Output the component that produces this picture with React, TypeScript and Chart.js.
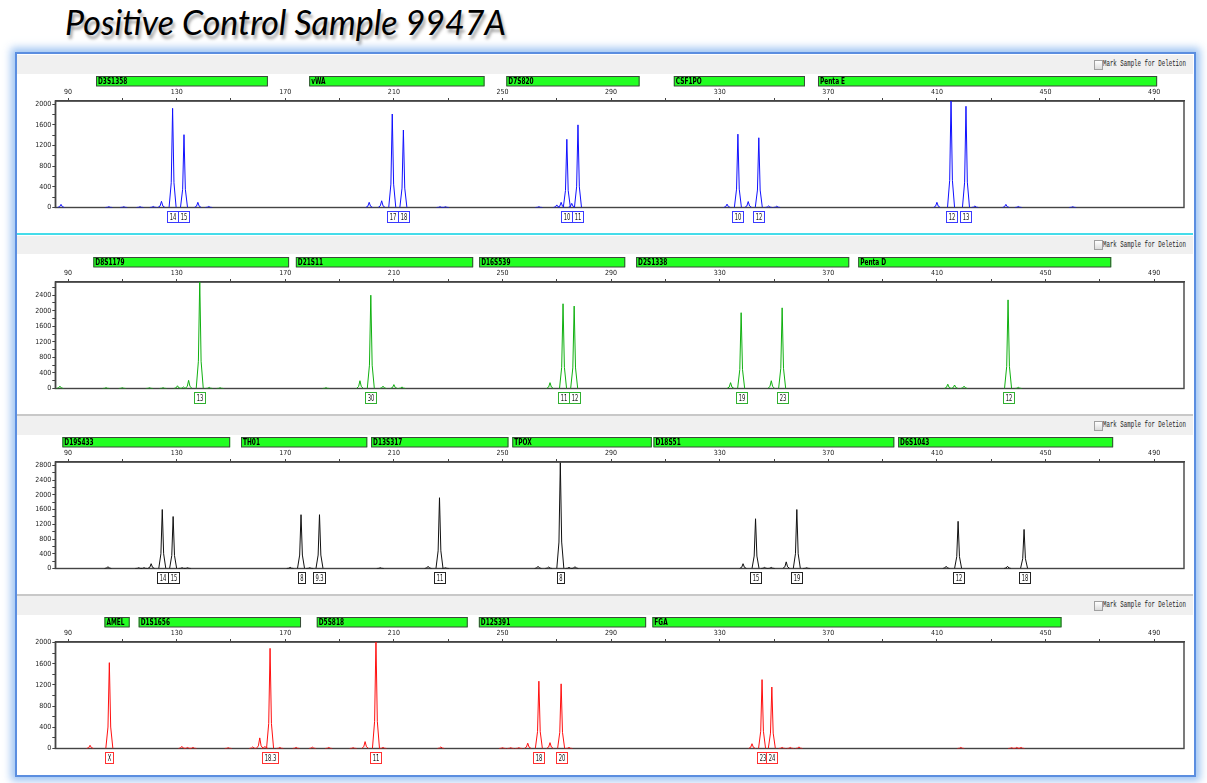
import React, { useEffect, useRef } from 'react';
import { Chart, registerables } from 'chart.js';
Chart.register(...registerables);

// ---------- shared axis data ----------
const X_MIN = 85.3;
const X_MAX = 501;
const X_TICKS = [90, 110, 130, 150, 170, 190, 210, 230, 250, 270, 290, 310, 330, 350, 370, 390, 410, 430, 450, 470, 490];
const X_LABELS = [90, 130, 170, 210, 250, 290, 330, 370, 410, 450, 490];

// ---------- panel 1 (blue) ----------
const LOCI_1_NAMES = ['D3S1358', 'vWA', 'D7S820', 'CSF1PO', 'Penta E'];
const LOCI_1_START = [100.3, 178.8, 251.4, 313.1, 366.2];
const LOCI_1_END = [163.6, 243.4, 300.5, 361.4, 491.1];
const PEAKS_1_POS = [87.4, 105, 110.5, 116.5, 121.4, 124.4, 128.5, 132.7, 137.8, 141.8, 200.9, 205.5, 209.4, 213.5, 227, 229, 263.4, 270, 271.6, 273.7, 275.5, 277.8, 332.7, 336.7, 340.5, 344.4, 348, 351, 410, 415.2, 420.7, 424, 435.4, 440, 460];
const PEAKS_1_H = [60, 15, 15, 15, 20, 120, 1920, 1410, 100, 20, 100, 130, 1810, 1500, 15, 15, 15, 50, 100, 1320, 80, 1600, 65, 1420, 115, 1350, 30, 25, 100, 2100, 1960, 30, 60, 20, 15];
const ALLELES_1_POS = [128.5, 132.7, 209.4, 213.5, 273.7, 277.8, 336.7, 344.4, 415.2, 420.7];
const ALLELES_1_LBL = ['14', '15', '17', '18', '10', '11', '10', '12', '12', '13'];
const Y_TICKS_1 = [0, 200, 400, 600, 800, 1000, 1200, 1400, 1600, 1800, 2000];
const Y_LABELS_1 = [0, 400, 800, 1200, 1600, 2000];

// ---------- panel 2 (green) ----------
const LOCI_2_NAMES = ['D8S1179', 'D21S11', 'D16S539', 'D2S1338', 'Penta D'];
const LOCI_2_START = [99.3, 173.9, 241.4, 299.2, 381];
const LOCI_2_END = [171.4, 239.2, 295.2, 377.7, 474.2];
const PEAKS_2_POS = [87, 104, 110, 120, 125, 130.3, 132.5, 134.4, 138.5, 142, 146, 185, 197.5, 201.5, 206, 210, 213, 267.5, 272.3, 276.4, 334, 337.9, 349, 353, 414, 416.5, 420, 436.2, 440];
const PEAKS_2_H = [60, 20, 20, 20, 20, 70, 40, 210, 2800, 30, 20, 20, 200, 2400, 60, 100, 40, 150, 2180, 2120, 150, 1950, 200, 2075, 110, 90, 60, 2280, 30];
const ALLELES_2_POS = [138.5, 201.5, 272.3, 276.4, 337.9, 353, 436.2];
const ALLELES_2_LBL = ['13', '30', '11', '12', '19', '23', '12'];
const Y_TICKS_2 = [0, 200, 400, 600, 800, 1000, 1200, 1400, 1600, 1800, 2000, 2200, 2400, 2600];
const Y_LABELS_2 = [0, 400, 800, 1200, 1600, 2000, 2400];

// ---------- panel 3 (black) ----------
const LOCI_3_NAMES = ['D19S433', 'TH01', 'D13S317', 'TPOX', 'D18S51', 'D6S1043'];
const LOCI_3_START = [87.9, 153.7, 201.6, 253.6, 305.6, 395.7];
const LOCI_3_END = [149.7, 200.2, 252.2, 305, 394.3, 474.9];
const PEAKS_3_POS = [104.7, 116, 118, 120.6, 124.7, 128.7, 132, 134, 171.8, 175.8, 179, 182.6, 205, 222.6, 226.8, 229, 263.1, 267, 271.3, 274.5, 276.7, 338.6, 343.2, 346.5, 349, 354.5, 358.4, 362, 413.4, 417.8, 436, 442.1];
const PEAKS_3_H = [50, 20, 20, 130, 1600, 1410, 20, 20, 30, 1460, 20, 1460, 20, 60, 1920, 20, 60, 40, 2870, 30, 50, 130, 1350, 30, 30, 180, 1600, 20, 60, 1280, 60, 1060];
const ALLELES_3_POS = [124.7, 128.7, 175.8, 182.6, 226.8, 271.3, 343.2, 358.4, 417.8, 442.1];
const ALLELES_3_LBL = ['14', '15', '8', '9.3', '11', '8', '15', '19', '12', '18'];
const Y_TICKS_3 = [0, 200, 400, 600, 800, 1000, 1200, 1400, 1600, 1800, 2000, 2200, 2400, 2600, 2800];
const Y_LABELS_3 = [0, 400, 800, 1200, 1600, 2000, 2400, 2800];

// ---------- panel 4 (red) ----------
const LOCI_4_NAMES = ['AMEL', 'D1S1656', 'D5S818', 'D12S391', 'FGA'];
const LOCI_4_START = [103.4, 116, 181.6, 241.3, 305.2];
const LOCI_4_END = [112.7, 175.8, 237.2, 302.9, 455.9];
const PEAKS_4_POS = [98.1, 105.2, 131.9, 134, 136, 149, 158, 160.6, 162.5, 164.4, 168, 174, 180, 186, 195, 199.4, 203.4, 206, 227.3, 250, 253, 256, 259.3, 263.4, 267.5, 271.6, 274.5, 341.9, 345.6, 349.2, 353, 356, 359.2, 418.8, 437.5, 439.4, 441];
const PEAKS_4_H = [60, 1620, 40, 20, 20, 15, 30, 200, 40, 1890, 20, 20, 25, 20, 15, 130, 2050, 20, 30, 15, 15, 15, 100, 1270, 110, 1220, 20, 90, 1300, 1160, 20, 20, 30, 20, 15, 20, 20];
const ALLELES_4_POS = [105.2, 164.4, 203.4, 263.4, 271.6, 345.6, 349.2];
const ALLELES_4_LBL = ['X', '18.3', '11', '18', '20', '23', '24'];
const Y_TICKS_4 = [0, 200, 400, 600, 800, 1000, 1200, 1400, 1600, 1800, 2000];
const Y_LABELS_4 = [0, 400, 800, 1200, 1600, 2000];

// ---------- styles ----------
const NARROW = "'Liberation Sans Narrow', 'DejaVu Sans Condensed', 'Liberation Sans', sans-serif";
const SHAPE_DX = [-1.3, -0.5, 0, 0.5, 1.3];
const SHAPE_FRAC = [0, 0.25, 1, 0.25, 0];

type PanelCfg = {
  top: number;
  color: string;
  boxColor: string;
  yMax: number;
  yTicks: number[];
  yLabels: number[];
  lociNames: string[];
  lociStart: number[];
  lociEnd: number[];
  peakPos: number[];
  peakH: number[];
  allelePos: number[];
  alleleLbl: string[];
};

const PANELS: PanelCfg[] = [
  { top: 54, color: '#1010ff', boxColor: '#3a3aff', yMax: 2062, yTicks: Y_TICKS_1, yLabels: Y_LABELS_1,
    lociNames: LOCI_1_NAMES, lociStart: LOCI_1_START, lociEnd: LOCI_1_END, peakPos: PEAKS_1_POS, peakH: PEAKS_1_H,
    allelePos: ALLELES_1_POS, alleleLbl: ALLELES_1_LBL },
  { top: 234.5, color: '#10b010', boxColor: '#30b030', yMax: 2740, yTicks: Y_TICKS_2, yLabels: Y_LABELS_2,
    lociNames: LOCI_2_NAMES, lociStart: LOCI_2_START, lociEnd: LOCI_2_END, peakPos: PEAKS_2_POS, peakH: PEAKS_2_H,
    allelePos: ALLELES_2_POS, alleleLbl: ALLELES_2_LBL },
  { top: 415, color: '#111111', boxColor: '#222222', yMax: 2890, yTicks: Y_TICKS_3, yLabels: Y_LABELS_3,
    lociNames: LOCI_3_NAMES, lociStart: LOCI_3_START, lociEnd: LOCI_3_END, peakPos: PEAKS_3_POS, peakH: PEAKS_3_H,
    allelePos: ALLELES_3_POS, alleleLbl: ALLELES_3_LBL },
  { top: 595, color: '#ff1010', boxColor: '#ff3030', yMax: 2010, yTicks: Y_TICKS_4, yLabels: Y_LABELS_4,
    lociNames: LOCI_4_NAMES, lociStart: LOCI_4_START, lociEnd: LOCI_4_END, peakPos: PEAKS_4_POS, peakH: PEAKS_4_H,
    allelePos: ALLELES_4_POS, alleleLbl: ALLELES_4_LBL },
];

function buildTrace(pos: number[], h: number[]) {
  const pts: { x: number; y: number | null }[] = [];
  pos.forEach((p, i) => {
    SHAPE_DX.forEach((dx, k) => pts.push({ x: p + dx, y: h[i] * SHAPE_FRAC[k] }));
    pts.push({ x: p + 1.4, y: null });
  });
  return pts;
}

function narrowText(ctx: CanvasRenderingContext2D, text: string, x: number, y: number, sx: number) {
  ctx.save();
  ctx.translate(x, y);
  ctx.scale(sx, 1);
  ctx.fillText(text, 0, 0);
  ctx.restore();
}

function makePlugins(cfg: PanelCfg) {
  const frame = {
    id: 'frame',
    beforeDatasetsDraw(chart: any) {
      const { ctx, chartArea: a } = chart;
      ctx.save();
      ctx.strokeStyle = '#444';
      ctx.lineWidth = 1.4;
      ctx.strokeRect(a.left, a.top, a.right - a.left, a.bottom - a.top);
      ctx.restore();
    },
  };
  const loci = {
    id: 'loci',
    afterDraw(chart: any) {
      const { ctx } = chart;
      const xs = chart.scales.x;
      ctx.save();
      cfg.lociNames.forEach((name, i) => {
        const x1 = xs.getPixelForValue(cfg.lociStart[i]);
        const x2 = xs.getPixelForValue(cfg.lociEnd[i]);
        ctx.fillStyle = '#22ff22';
        ctx.fillRect(x1, 22, x2 - x1, 10);
        ctx.strokeStyle = '#3a4a3a';
        ctx.lineWidth = 1;
        ctx.strokeRect(x1 + 0.5, 22.5, x2 - x1 - 1, 9.5);
        ctx.fillStyle = '#000';
        ctx.font = `bold 9px ${NARROW}`;
        ctx.textBaseline = 'middle';
        ctx.textAlign = 'left';
        narrowText(ctx, name, x1 + 2, 27.5, 0.72);
      });
      ctx.restore();
    },
  };
  const alleles = {
    id: 'alleles',
    afterDraw(chart: any) {
      const { ctx, chartArea: a } = chart;
      const xs = chart.scales.x;
      const SX = 0.72;
      ctx.save();
      ctx.font = `8px ${NARROW}`;
      cfg.allelePos.forEach((p, i) => {
        const cx = xs.getPixelForValue(p);
        const lbl = cfg.alleleLbl[i];
        const w = Math.round(ctx.measureText(lbl).width * SX + 4);
        const top = Math.round(a.bottom + 3);
        const left = Math.round(cx - w / 2);
        ctx.fillStyle = '#fff';
        ctx.fillRect(left, top, w, 11);
        ctx.strokeStyle = cfg.boxColor;
        ctx.lineWidth = 1;
        ctx.strokeRect(left + 0.5, top + 0.5, w, 11);
        ctx.fillStyle = '#111';
        ctx.textAlign = 'center';
        ctx.textBaseline = 'middle';
        narrowText(ctx, lbl, left + w / 2 + 0.5, top + 6.5, SX);
      });
      ctx.restore();
    },
  };
  return [frame, loci, alleles];
}

function Panel({ cfg }: { cfg: PanelCfg }) {
  const ref = useRef<HTMLCanvasElement>(null);
  useEffect(() => {
    const chart = new Chart(ref.current as HTMLCanvasElement, {
      type: 'line',
      data: {
        datasets: [
          {
            data: buildTrace(cfg.peakPos, cfg.peakH) as any,
            borderColor: cfg.color,
            borderWidth: 1,
            pointRadius: 0,
            fill: false,
            tension: 0,
            spanGaps: false,
          },
        ],
      },
      options: {
        animation: false,
        responsive: true,
        maintainAspectRatio: false,
        events: [],
        layout: { padding: { left: 0, right: 10, top: 0, bottom: 26.5 } },
        plugins: { legend: { display: false }, tooltip: { enabled: false } },
        scales: {
          x: {
            type: 'linear',
            position: 'top',
            min: X_MIN,
            max: X_MAX,
            afterBuildTicks: (s: any) => {
              s.ticks = X_TICKS.map((v) => ({ value: v }));
            },
            afterFit: (s: any) => {
              s.height = 47;
            },
            ticks: {
              autoSkip: false,
              maxRotation: 0,
              padding: 2,
              color: '#222',
              font: { family: NARROW, size: 7 },
              callback: (v: any) => (X_LABELS.includes(Number(v)) ? String(v) : ''),
            },
            grid: { drawOnChartArea: false, drawTicks: true, tickLength: 3, color: '#444' },
            border: { display: true, color: '#444', width: 1.4 },
          },
          y: {
            type: 'linear',
            min: 0,
            max: cfg.yMax,
            afterBuildTicks: (s: any) => {
              s.ticks = cfg.yTicks.map((v) => ({ value: v }));
            },
            afterFit: (s: any) => {
              s.width = 38.3;
            },
            ticks: {
              autoSkip: false,
              padding: 1,
              color: '#222',
              font: { family: NARROW, size: 7 },
              callback: (v: any) => (cfg.yLabels.includes(Number(v)) ? String(v) : ''),
            },
            grid: { drawOnChartArea: false, drawTicks: true, tickLength: 3, color: '#444' },
            border: { display: true, color: '#444', width: 1.4 },
          },
        },
      },
      plugins: makePlugins(cfg),
    });
    return () => chart.destroy();
  }, [cfg]);
  return (
    <div style={{ position: 'absolute', left: 17, top: cfg.top, width: 1177, height: 180 }}>
      <canvas ref={ref} />
    </div>
  );
}

function Band({ top }: { top: number }) {
  return (
    <>
      <div style={{ position: 'absolute', left: 17, top: top + 1, width: 1176, height: 18.5, background: '#f0f0f0' }} />
      <div
        style={{
          position: 'absolute',
          left: 1094,
          top: top + 5.5,
          width: 7,
          height: 8,
          border: '1px solid #a0a0a0',
          background: 'linear-gradient(#ffffff, #dcdcdc)',
        }}
      />
      <div
        style={{
          position: 'absolute',
          left: 1103,
          top: top + 5,
          fontFamily: "'Liberation Mono', 'DejaVu Sans Mono', monospace",
          fontSize: 9,
          lineHeight: '11px',
          color: '#222',
          whiteSpace: 'nowrap',
          transform: 'scaleX(0.64)',
          transformOrigin: 'left center',
        }}
      >
        Mark Sample for Deletion
      </div>
    </>
  );
}

export default function App() {
  return (
    <div style={{ position: 'fixed', left: 0, top: 0, width: 1207, height: 783, background: '#fff', overflow: 'hidden' }}>
      <div
        style={{
          position: 'absolute',
          left: 65,
          top: -1,
          fontFamily: "Lato, 'Open Sans', sans-serif",
          fontStyle: 'italic',
          fontSize: 34,
          lineHeight: '46px',
          color: '#000',
          whiteSpace: 'nowrap',
          textShadow: '2px 4px 3px rgba(0,0,0,0.35)',
        }}
      >
        Positive Control Sample 9947A
      </div>
      <div
        style={{
          position: 'absolute',
          left: 15,
          top: 52,
          width: 1181,
          height: 725,
          boxSizing: 'border-box',
          border: '2px solid #5b8ee0',
          background: '#fff',
          boxShadow: '0 0 8px 4px rgba(140,185,240,0.85)',
        }}
      />
      {PANELS.map((p) => (
        <Band key={'b' + p.top} top={p.top} />
      ))}
      <div style={{ position: 'absolute', left: 17, top: 233, width: 1176, height: 2, background: '#44dcea' }} />
      <div style={{ position: 'absolute', left: 17, top: 414, width: 1176, height: 2, background: '#c8c8c8' }} />
      <div style={{ position: 'absolute', left: 17, top: 594, width: 1176, height: 2, background: '#c8c8c8' }} />
      {PANELS.map((p) => (
        <Panel key={'p' + p.top} cfg={p} />
      ))}
    </div>
  );
}
